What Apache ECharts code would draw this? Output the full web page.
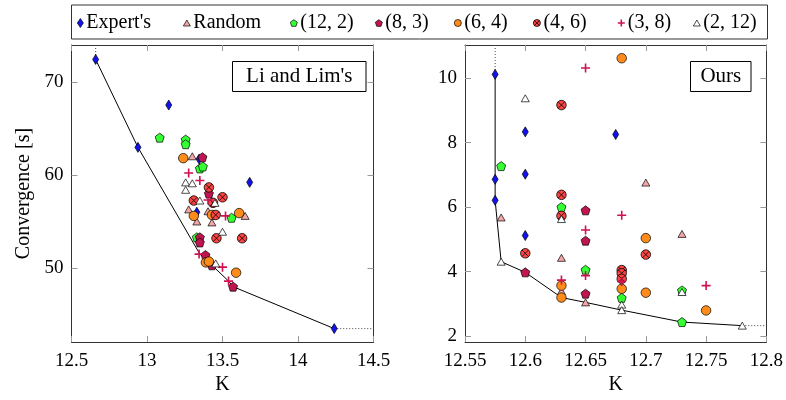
<!DOCTYPE html>
<html><head><meta charset="utf-8">
<script src="https://cdn.jsdelivr.net/npm/echarts@6/dist/echarts.min.js"></script>
<style>html,body{margin:0;padding:0;background:#fff}#c{width:786px;height:400px}</style>
</head><body><div id="c"></div>
<script>
// ---------- data (K, convergence [s]) ----------
const seriesNames = ["Expert's", "Random", "(12, 2)", "(8, 3)", "(6, 4)", "(4, 6)", "(3, 8)", "(2, 12)"];

// Left panel: Li and Lim's
const expertL = [[12.66,72.4],[13.144,67.5],[12.94,62.96],[13.68,59.2],[13.33,56.0],[13.345,61.7],[14.24,43.5]];
const randomL = [[13.3,62.0],[13.276,56.3],[13.33,55.0],[13.404,56.1],[13.43,54.9],[13.65,55.6]];
const g12L = [[13.084,64.0],[13.256,63.8],[13.256,63.3],[13.35,60.7],[13.37,60.9],[13.56,55.4],[13.33,53.3]];
const m83L = [[13.367,61.9],[13.35,53.3],[13.35,52.75],[13.387,51.4],[13.43,50.3],[13.57,48.0],[13.41,58.0]];
const o64L = [[13.24,61.8],[13.31,55.6],[13.43,55.7],[13.61,55.9],[13.39,50.6],[13.41,50.7],[13.59,49.5]];
const x46L = [[13.41,58.66],[13.5,57.6],[13.31,57.25],[13.437,57.0],[13.455,55.7],[13.46,53.2],[13.63,53.2]];
const p38L = [[13.276,60.2],[13.35,59.4],[13.404,57.3],[13.52,55.6],[13.345,51.5],[13.5,50.1],[13.54,48.6]];
const t212L = [[13.256,59.2],[13.3,59.1],[13.256,58.4],[13.35,57.25],[13.45,57.0],[13.5,53.9],[13.455,50.5]];
const frontL = [[12.66,72.4],[12.94,62.96],[13.35,51.5],[13.437,50.2],[13.54,48.6],[13.57,48.0],[14.24,43.5]];

// Right panel: Ours
const expertR = [[12.575,10.11],[12.575,6.86],[12.575,6.21],[12.6,8.33],[12.6,7.02],[12.6,5.12],[12.675,8.25]];
const randomR = [[12.58,5.68],[12.63,4.43],[12.7,6.76],[12.73,5.17],[12.63,3.4],[12.65,3.05]];
const g12R = [[12.58,7.27],[12.63,6.0],[12.65,4.06],[12.68,3.19],[12.73,2.44],[12.73,3.42]];
const m83R = [[12.6,3.98],[12.65,5.9],[12.65,4.96],[12.65,3.32]];
const o64R = [[12.68,10.61],[12.63,3.57],[12.63,3.2],[12.68,3.47],[12.7,5.04],[12.7,3.35],[12.75,2.8]];
const x46R = [[12.63,9.16],[12.63,6.38],[12.63,5.73],[12.6,4.57],[12.7,4.53],[12.68,4.05],[12.68,3.95],[12.68,3.78]];
const p38R = [[12.65,10.31],[12.68,5.75],[12.65,5.29],[12.63,3.74],[12.65,3.88],[12.75,3.57],[12.68,3.7]];
const t212R = [[12.6,9.37],[12.63,5.63],[12.58,4.31],[12.68,2.98],[12.68,2.81],[12.73,3.37],[12.78,2.33]];
const frontR = [[12.575,10.11],[12.575,6.86],[12.575,6.21],[12.58,4.31],[12.6,3.98],[12.63,3.2],[12.65,3.05],[12.68,2.81],[12.73,2.44],[12.78,2.33]];

// axes
const xTicksL = [12.5, 13, 13.5, 14, 14.5];
const yTicksL = [50, 60, 70];
const xTicksR = [12.55, 12.6, 12.65, 12.7, 12.75, 12.8];
const yTicksR = [2, 4, 6, 8, 10];
const xRangeL = [12.5, 14.5], yRangeL = [42.05, 73.95];
const xRangeR = [12.55, 12.8], yRangeR = [1.82, 11.02];

// ---------- styling ----------
const FONT = 'Liberation Serif';
const PENT = 'path://M10,0 L19.5,6.9 L15.9,18.1 L4.1,18.1 L0.5,6.9 Z';
const OTIMES = 'path://M0,10 A10,10 0 1,1 20,10 A10,10 0 1,1 0,10 Z M3,3 L17,17 M17,3 L3,17';
const PLUS = 'path://M0,10 L20,10 M10,0 L10,20';
const styles = [
  {symbol:'diamond', size:[6,10], color:'#1212f0', border:'#000', bw:0.7, icon:[6,9]},
  {symbol:'triangle', size:[8,7], color:'#f4a6a6', border:'#000', bw:0.7, icon:[7,6]},
  {symbol:PENT, size:9, color:'#33ff33', border:'#000', bw:0.7, icon:[7,7]},
  {symbol:PENT, size:9, color:'#bf1550', border:'#000', bw:0.7, icon:[7,7]},
  {symbol:'circle', size:9.5, color:'#ff8c1a', border:'#000', bw:0.7, icon:[7,7]},
  {symbol:OTIMES, size:9.5, color:'#ff4444', border:'#000', bw:0.8, icon:[7,7]},
  {symbol:PLUS, size:9, color:'#d0104f', border:'#d0104f', bw:1.6, icon:[7,7]},
  {symbol:'triangle', size:[8,7], color:'#ffffff', border:'#000', bw:0.7, icon:[7,6]}
];
const dataL = [expertL, randomL, g12L, m83L, o64L, x46L, p38L, t212L];
const dataR = [expertR, randomR, g12R, m83R, o64R, x46R, p38R, t212R];

const chart = echarts.init(document.getElementById('c'), null, {renderer:'canvas'});

function mainX(grid, range, ticks, name) {
  return {type:'value', gridIndex:grid, position:'bottom', min:range[0], max:range[1],
    name:name, nameLocation:'middle', nameGap:27, nameTextStyle:{fontFamily:FONT, fontSize:20, color:'#000'},
    axisLine:{show:true, lineStyle:{color:'#333', width:1}},
    axisTick:{show:true, inside:true, length:6, lineStyle:{color:'#999'}, customValues:ticks},
    axisLabel:{show:true, margin:9, fontFamily:FONT, fontSize:19, color:'#000', customValues:ticks, formatter:v=>String(+v.toFixed(2))},
    splitLine:{show:false}};
}
function mirrorX(grid, range, ticks) {
  return {type:'value', gridIndex:grid, position:'top', min:range[0], max:range[1],
    axisLine:{show:true, lineStyle:{color:'#333', width:1}},
    axisTick:{show:true, inside:true, length:6, lineStyle:{color:'#999'}, customValues:ticks},
    axisLabel:{show:false}, splitLine:{show:false}};
}
function mainY(grid, range, ticks, name) {
  return {type:'value', gridIndex:grid, position:'left', min:range[0], max:range[1],
    name:name, nameLocation:'middle', nameGap:38, nameTextStyle:{fontFamily:FONT, fontSize:20, color:'#000'},
    axisLine:{show:true, lineStyle:{color:'#333', width:1}},
    axisTick:{show:true, inside:true, length:6, lineStyle:{color:'#999'}, customValues:ticks},
    axisLabel:{show:true, margin:8, fontFamily:FONT, fontSize:19, color:'#000', customValues:ticks},
    splitLine:{show:false}};
}
function mirrorY(grid, range, ticks) {
  return {type:'value', gridIndex:grid, position:'right', min:range[0], max:range[1],
    axisLine:{show:true, lineStyle:{color:'#333', width:1}},
    axisTick:{show:true, inside:true, length:6, lineStyle:{color:'#999'}, customValues:ticks},
    axisLabel:{show:false}, splitLine:{show:false}};
}

const series = [];
// front lines and dotted extensions
function addFront(front, xi, yi, xr, yr) {
  series.push({type:'line', xAxisIndex:xi, yAxisIndex:yi, data:front, symbol:'none', silent:true,
    lineStyle:{color:'#000', width:1}, z:1});
  const first = front[0], last = front[front.length-1];
  series.push({type:'line', xAxisIndex:xi, yAxisIndex:yi, data:[[first[0], yr[1]], first], symbol:'none', silent:true,
    lineStyle:{color:'#444', width:1, type:[1,2]}, z:1});
  series.push({type:'line', xAxisIndex:xi, yAxisIndex:yi, data:[last, [xr[1], last[1]]], symbol:'none', silent:true,
    lineStyle:{color:'#444', width:1, type:[1,2]}, z:1});
}
addFront(frontL, 0, 0, xRangeL, yRangeL);
addFront(frontR, 2, 2, xRangeR, yRangeR);

seriesNames.forEach((nm, i) => {
  const s = styles[i];
  [[dataL[i], 0], [dataR[i], 2]].forEach(([d, ax]) => {
    series.push({type:'scatter', name:nm, xAxisIndex:ax, yAxisIndex:ax, data:d,
      symbol:s.symbol, symbolSize:s.size, z:2+i,
      itemStyle:{color:s.color, borderColor:s.border, borderWidth:s.bw, opacity:1},
      emphasis:{disabled:true}});
  });
});

// legends: one per entry, positioned in a framed row
const legendText = [86, 193, 300, 385, 464, 543, 627, 703];
const legends = seriesNames.map((nm, i) => {
  const s = styles[i];
  return {show:true, data:[{name:nm, icon:s.symbol}], left:legendText[i]-3-s.icon[0], top:13, padding:0,
    itemWidth:s.icon[0], itemHeight:s.icon[1], itemGap:0, selectedMode:false,
    itemStyle:{borderWidth:s.bw, borderColor:s.border},
    textStyle:{fontFamily:FONT, fontSize:20, color:'#000', lineHeight:20, padding:[0,0,0,-2]}};
});

chart.setOption({
  animation:false,
  backgroundColor:'#fff',
  grid:[{left:71.5, top:45, width:302, height:303, containLabel:false},
        {left:465, top:45, width:303, height:303, containLabel:false}],
  xAxis:[mainX(0, xRangeL, xTicksL, 'K'), mirrorX(0, xRangeL, xTicksL),
         mainX(1, xRangeR, xTicksR, 'K'), mirrorX(1, xRangeR, xTicksR)],
  yAxis:[mainY(0, yRangeL, yTicksL, 'Convergence [s]'), mirrorY(0, yRangeL, yTicksL),
         mainY(1, yRangeR, yTicksR, ''), mirrorY(1, yRangeR, yTicksR)],
  legend:legends,
  series:series,
  graphic:[
    {type:'rect', shape:{x:71.5, y:5, width:696, height:34}, style:{fill:'none', stroke:'#333', lineWidth:1}, silent:true},
    {type:'rect', shape:{x:232.5, y:61.5, width:133.5, height:30}, style:{fill:'#fff', stroke:'#000', lineWidth:1}, z:50},
    {type:'text', x:299.3, y:76.5, style:{text:"Li and Lim's", font:'21px "Liberation Serif"', fill:'#000', align:'center', verticalAlign:'middle'}, z:51},
    {type:'rect', shape:{x:690.5, y:61.5, width:60.5, height:30}, style:{fill:'#fff', stroke:'#000', lineWidth:1}, z:50},
    {type:'text', x:720.8, y:76.5, style:{text:'Ours', font:'21px "Liberation Serif"', fill:'#000', align:'center', verticalAlign:'middle'}, z:51}
  ]
});
</script></body></html>
